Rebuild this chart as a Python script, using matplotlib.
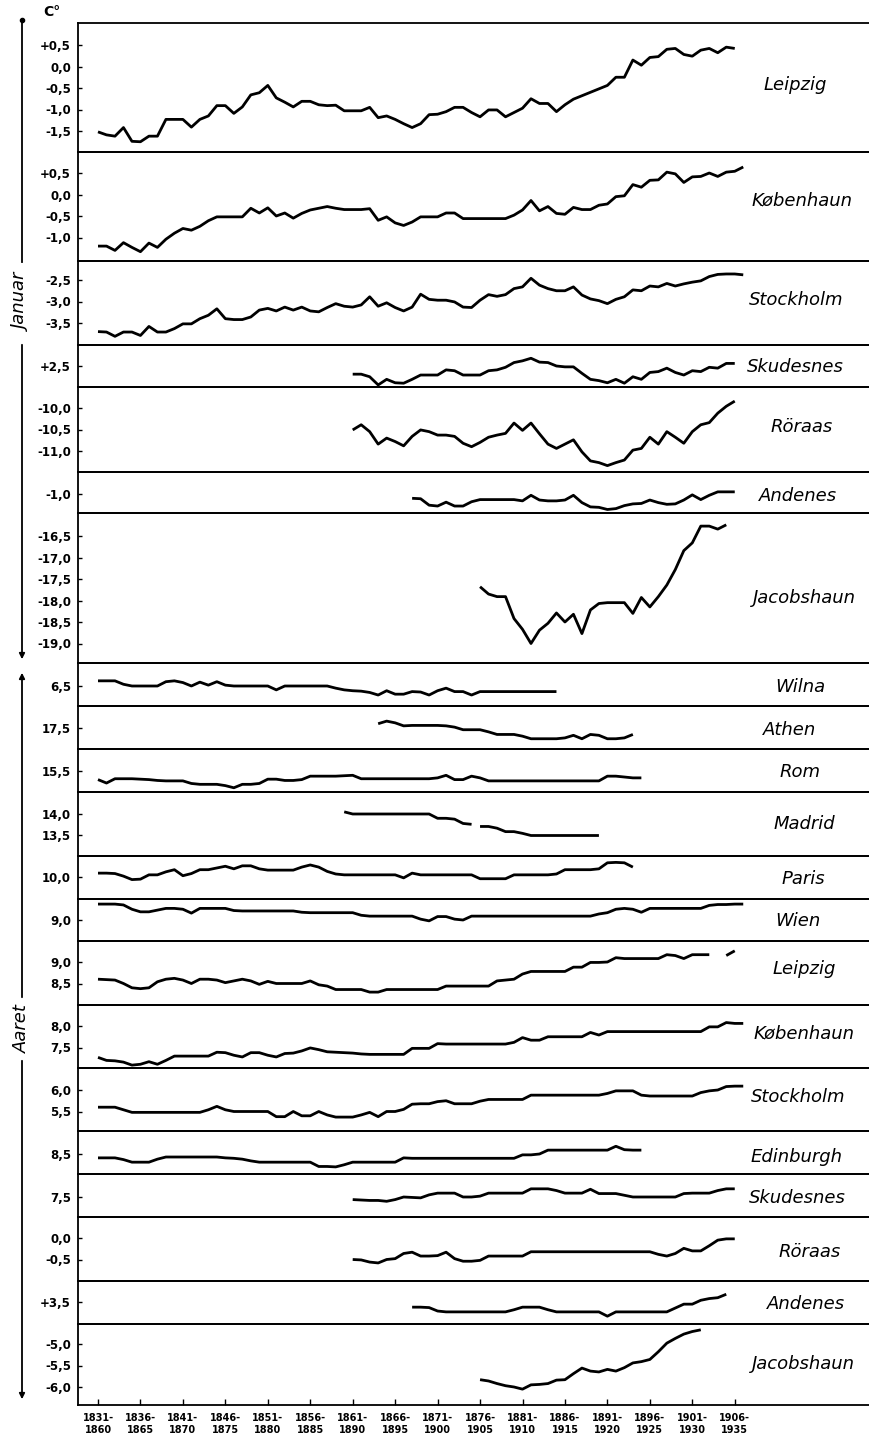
import numpy as np
import matplotlib
matplotlib.use("Agg")
import matplotlib.pyplot as plt
from matplotlib.lines import Line2D
from matplotlib.patches import FancyArrowPatch

# ---------------- data (30-year running means, first year of period) ----------------
leipzig_jan = [-1.52,-1.59,-1.62,-1.42,-1.74,-1.75,-1.62,-1.62,-1.23,-1.23,
               -1.23,-1.41,-1.23,-1.15,-0.91,-0.91,-1.09,-0.94,-0.66,-0.61,
               -0.44,-0.73,-0.83,-0.94,-0.81,-0.81,-0.89,-0.91,-0.90,-1.03,
               -1.03,-1.03,-0.95,-1.19,-1.15,-1.23,-1.33,-1.42,-1.33,-1.12,
               -1.11,-1.05,-0.95,-0.95,-1.07,-1.17,-1.01,-1.01,-1.17,-1.07,
               -0.97,-0.75,-0.86,-0.86,-1.05,-0.89,-0.76,-0.68,-0.60,-0.52,
               -0.44,-0.25,-0.25,0.15,0.03,0.21,0.23,0.40,0.42,0.28,
               0.24,0.38,0.42,0.32,0.45,0.42]
kobenhavn_jan = [-1.20,-1.20,-1.30,-1.12,-1.23,-1.33,-1.13,-1.23,-1.04,-0.90,
                 -0.79,-0.83,-0.74,-0.61,-0.52,-0.52,-0.52,-0.52,-0.32,-0.43,
                 -0.31,-0.50,-0.43,-0.55,-0.44,-0.36,-0.32,-0.28,-0.32,-0.35,
                 -0.35,-0.35,-0.33,-0.60,-0.52,-0.66,-0.72,-0.64,-0.52,-0.52,
                 -0.52,-0.43,-0.43,-0.56,-0.56,-0.56,-0.56,-0.56,-0.56,-0.48,
                 -0.36,-0.14,-0.38,-0.28,-0.44,-0.46,-0.30,-0.35,-0.35,-0.25,
                 -0.22,-0.05,-0.03,0.23,0.17,0.33,0.34,0.52,0.48,0.28,
                 0.41,0.42,0.50,0.42,0.52,0.54,0.64]
stockholm_jan = [-3.70,-3.71,-3.81,-3.71,-3.71,-3.79,-3.58,-3.71,-3.71,-3.63,
                 -3.52,-3.52,-3.40,-3.32,-3.17,-3.40,-3.42,-3.42,-3.36,-3.20,
                 -3.16,-3.22,-3.13,-3.20,-3.13,-3.22,-3.24,-3.14,-3.05,-3.11,
                 -3.13,-3.08,-2.89,-3.11,-3.03,-3.14,-3.22,-3.13,-2.83,-2.95,
                 -2.97,-2.97,-3.01,-3.13,-3.14,-2.97,-2.84,-2.88,-2.84,-2.70,
                 -2.66,-2.46,-2.62,-2.70,-2.75,-2.75,-2.66,-2.85,-2.94,-2.98,
                 -3.05,-2.95,-2.89,-2.73,-2.75,-2.64,-2.66,-2.58,-2.64,-2.59,
                 -2.55,-2.52,-2.42,-2.37,-2.36,-2.36,-2.38]
skudesnes_jan = [2.31,2.31,2.25,2.06,2.19,2.11,2.10,2.19,2.29,2.29,
                 2.29,2.41,2.39,2.29,2.29,2.29,2.39,2.41,2.47,2.58,
                 2.62,2.68,2.59,2.58,2.50,2.48,2.48,2.33,2.19,2.16,
                 2.11,2.19,2.10,2.25,2.19,2.35,2.37,2.45,2.35,2.29,
                 2.39,2.37,2.47,2.45,2.56,2.56]
roraas_jan = [-10.51,-10.39,-10.55,-10.84,-10.70,-10.78,-10.88,-10.66,-10.51,-10.55,
              -10.63,-10.63,-10.66,-10.82,-10.90,-10.80,-10.68,-10.63,-10.59,-10.35,
              -10.52,-10.35,-10.60,-10.84,-10.94,-10.84,-10.74,-11.02,-11.23,-11.27,
              -11.34,-11.27,-11.21,-10.98,-10.94,-10.68,-10.84,-10.55,-10.68,-10.82,
              -10.55,-10.39,-10.34,-10.12,-9.96,-9.84]
andenes_jan = [-1.10,-1.11,-1.26,-1.28,-1.19,-1.28,-1.28,-1.18,-1.13,-1.13,
               -1.13,-1.13,-1.13,-1.16,-1.03,-1.14,-1.16,-1.16,-1.14,-1.03,
               -1.20,-1.30,-1.31,-1.36,-1.34,-1.27,-1.23,-1.22,-1.14,-1.20,
               -1.24,-1.23,-1.14,-1.02,-1.13,-1.03,-0.95,-0.95,-0.95]
jacobshavn_jan = [-17.68,-17.85,-17.91,-17.91,-18.42,-18.67,-19.00,-18.69,-18.53,-18.29,
                  -18.50,-18.32,-18.77,-18.22,-18.07,-18.05,-18.05,-18.05,-18.30,-17.93,
                  -18.15,-17.91,-17.64,-17.28,-16.84,-16.66,-16.27,-16.27,-16.34,-16.24]

wilna_ann = [6.62,6.62,6.62,6.54,6.50,6.50,6.50,6.50,6.60,6.62,
             6.58,6.50,6.59,6.52,6.60,6.52,6.50,6.50,6.50,6.50,
             6.50,6.41,6.50,6.50,6.50,6.50,6.50,6.50,6.45,6.41,
             6.39,6.38,6.35,6.29,6.39,6.31,6.31,6.37,6.36,6.29,
             6.39,6.45,6.37,6.37,6.29,6.37,6.37,6.37,6.37,6.37,
             6.37,6.37,6.37,6.37,6.37]
athen_ann = [17.60,17.66,17.62,17.55,17.56,17.56,17.56,17.56,17.55,17.52,
             17.46,17.46,17.46,17.41,17.35,17.35,17.35,17.31,17.25,17.25,
             17.25,17.25,17.27,17.33,17.25,17.35,17.33,17.25,17.25,17.27,
             17.35]
rom_ann = [15.30,15.22,15.32,15.32,15.32,15.31,15.30,15.28,15.27,15.27,
           15.27,15.21,15.19,15.19,15.19,15.16,15.11,15.19,15.19,15.21,
           15.31,15.31,15.28,15.28,15.30,15.38,15.38,15.38,15.38,15.39,
           15.40,15.32,15.32,15.32,15.32,15.32,15.32,15.32,15.32,15.32,
           15.34,15.40,15.30,15.30,15.38,15.34,15.27,15.27,15.27,15.27,
           15.27,15.27,15.27,15.27,15.27,15.27,15.27,15.27,15.27,15.27,
           15.38,15.38,15.36,15.34,15.34]
madrid_ann_a = [14.05,14.00,14.00,14.00,14.00,14.00,14.00,14.00,14.00,14.00,
                14.00,13.90,13.90,13.88,13.78,13.76]
madrid_ann_b = [13.71,13.71,13.67,13.59,13.59,13.55,13.50,13.50,13.50,13.50,
                13.50,13.50,13.50,13.50,13.50]
paris_ann = [10.09,10.09,10.08,10.02,9.94,9.95,10.05,10.05,10.12,10.17,
             10.03,10.08,10.17,10.17,10.21,10.25,10.19,10.26,10.26,10.19,
             10.16,10.16,10.16,10.16,10.23,10.28,10.23,10.13,10.07,10.05,
             10.05,10.05,10.05,10.05,10.05,10.05,9.98,10.09,10.05,10.05,
             10.05,10.05,10.05,10.05,10.05,9.96,9.96,9.96,9.96,10.05,
             10.05,10.05,10.05,10.05,10.07,10.17,10.17,10.17,10.17,10.19,
             10.33,10.34,10.33,10.23]
wien_ann = [9.37,9.37,9.37,9.35,9.25,9.19,9.19,9.23,9.27,9.27,
            9.25,9.16,9.27,9.27,9.27,9.27,9.22,9.21,9.21,9.21,
            9.21,9.21,9.21,9.21,9.18,9.17,9.17,9.17,9.17,9.17,
            9.17,9.11,9.09,9.09,9.09,9.09,9.09,9.09,9.02,8.98,
            9.08,9.08,9.02,9.00,9.09,9.09,9.09,9.09,9.09,9.09,
            9.09,9.09,9.09,9.09,9.09,9.09,9.09,9.09,9.09,9.14,
            9.17,9.25,9.27,9.25,9.18,9.27,9.27,9.27,9.27,9.27,
            9.27,9.27,9.34,9.36,9.36,9.37,9.37]
leipzig_ann_a = [8.60,8.59,8.58,8.50,8.40,8.38,8.40,8.54,8.60,8.62,
                 8.58,8.50,8.60,8.60,8.58,8.52,8.56,8.60,8.56,8.48,
                 8.55,8.50,8.50,8.50,8.50,8.56,8.47,8.44,8.36,8.36,
                 8.36,8.36,8.30,8.30,8.36,8.36,8.36,8.36,8.36,8.36,
                 8.36,8.44,8.44,8.44,8.44,8.44,8.44,8.56,8.58,8.60,
                 8.72,8.78,8.78,8.78,8.78,8.78,8.88,8.88,8.99,8.99,
                 9.00,9.10,9.08,9.08,9.08,9.08,9.08,9.17,9.15,9.08,
                 9.17,9.17,9.17]
leipzig_ann_b = [9.15, 9.26]
kobenhavn_ann = [7.27,7.20,7.19,7.16,7.09,7.11,7.17,7.11,7.20,7.30,
                 7.30,7.30,7.30,7.30,7.39,7.38,7.32,7.28,7.38,7.38,
                 7.32,7.28,7.36,7.37,7.42,7.49,7.45,7.40,7.39,7.38,
                 7.37,7.35,7.34,7.34,7.34,7.34,7.34,7.48,7.48,7.48,
                 7.59,7.58,7.58,7.58,7.58,7.58,7.58,7.58,7.58,7.62,
                 7.73,7.67,7.67,7.75,7.75,7.75,7.75,7.75,7.85,7.79,
                 7.87,7.87,7.87,7.87,7.87,7.87,7.87,7.87,7.87,7.87,
                 7.87,7.87,7.98,7.98,8.08,8.06,8.06]
stockholm_ann = [5.60,5.60,5.60,5.54,5.48,5.48,5.48,5.48,5.48,5.48,
                 5.48,5.48,5.48,5.54,5.62,5.54,5.50,5.50,5.50,5.50,
                 5.50,5.38,5.38,5.50,5.40,5.40,5.50,5.42,5.37,5.37,
                 5.37,5.42,5.48,5.38,5.50,5.50,5.55,5.67,5.68,5.68,
                 5.73,5.75,5.68,5.68,5.68,5.74,5.78,5.78,5.78,5.78,
                 5.78,5.88,5.88,5.88,5.88,5.88,5.88,5.88,5.88,5.88,
                 5.92,5.98,5.98,5.98,5.88,5.86,5.86,5.86,5.86,5.86,
                 5.86,5.94,5.98,6.00,6.08,6.09,6.09]
edinburgh_ann = [8.41,8.41,8.41,8.37,8.31,8.31,8.31,8.38,8.43,8.43,
                 8.43,8.43,8.43,8.43,8.43,8.41,8.40,8.38,8.34,8.31,
                 8.31,8.31,8.31,8.31,8.31,8.31,8.21,8.21,8.20,8.25,
                 8.31,8.31,8.31,8.31,8.31,8.31,8.41,8.40,8.40,8.40,
                 8.40,8.40,8.40,8.40,8.40,8.40,8.40,8.40,8.40,8.40,
                 8.48,8.48,8.50,8.59,8.59,8.59,8.59,8.59,8.59,8.59,
                 8.59,8.68,8.60,8.59,8.59]
skudesnes_ann = [7.44,7.43,7.42,7.42,7.40,7.44,7.50,7.49,7.48,7.55,
                 7.59,7.59,7.59,7.50,7.50,7.52,7.59,7.59,7.59,7.59,
                 7.59,7.69,7.69,7.69,7.65,7.59,7.59,7.59,7.68,7.58,
                 7.58,7.58,7.54,7.50,7.50,7.50,7.50,7.50,7.50,7.58,
                 7.59,7.59,7.59,7.65,7.69,7.69]
roraas_ann = [-0.50,-0.51,-0.56,-0.58,-0.50,-0.48,-0.36,-0.33,-0.42,-0.42,
              -0.41,-0.33,-0.48,-0.54,-0.54,-0.52,-0.42,-0.42,-0.42,-0.42,
              -0.42,-0.32,-0.32,-0.32,-0.32,-0.32,-0.32,-0.32,-0.32,-0.32,
              -0.32,-0.32,-0.32,-0.32,-0.32,-0.32,-0.38,-0.42,-0.36,-0.24,
              -0.30,-0.30,-0.18,-0.05,-0.02,-0.02]
andenes_ann = [3.38,3.38,3.37,3.29,3.27,3.27,3.27,3.27,3.27,3.27,
               3.27,3.27,3.32,3.38,3.38,3.38,3.32,3.27,3.27,3.27,
               3.27,3.27,3.27,3.17,3.27,3.27,3.27,3.27,3.27,3.27,
               3.27,3.36,3.45,3.45,3.54,3.58,3.60,3.68]
jacobshavn_ann = [-5.83,-5.86,-5.92,-5.97,-6.00,-6.05,-5.95,-5.94,-5.92,-5.84,
                  -5.83,-5.69,-5.56,-5.63,-5.65,-5.59,-5.63,-5.55,-5.44,-5.41,
                  -5.36,-5.18,-4.98,-4.87,-4.77,-4.71,-4.67]

period_starts = list(range(1831, 1907, 5))
period_labels = [f"{y}-\n{y + 29}" for y in period_starts]

station_names = ["Leipzig", "Københaun", "Stockholm", "Skudesnes", "Röraas", "Andenes", "Jacobshaun",
                 "Wilna", "Athen", "Rom", "Madrid", "Paris", "Wien",
                 "Leipzig", "Københaun", "Stockholm", "Edinburgh", "Skudesnes", "Röraas", "Andenes", "Jacobshaun"]

# series per panel: list of (first year, values)
panel_series = [
    [(1831, leipzig_jan)], [(1831, kobenhavn_jan)], [(1831, stockholm_jan)],
    [(1861, skudesnes_jan)], [(1861, roraas_jan)], [(1868, andenes_jan)], [(1876, jacobshavn_jan)],
    [(1831, wilna_ann)], [(1864, athen_ann)], [(1831, rom_ann)],
    [(1860, madrid_ann_a), (1876, madrid_ann_b)], [(1831, paris_ann)], [(1831, wien_ann)],
    [(1831, leipzig_ann_a), (1905, leipzig_ann_b)], [(1831, kobenhavn_ann)], [(1831, stockholm_ann)],
    [(1831, edinburgh_ann)], [(1861, skudesnes_ann)], [(1861, roraas_ann)], [(1868, andenes_ann)],
    [(1876, jacobshavn_ann)],
]

panel_ticks = [
    [0.5, 0.0, -0.5, -1.0, -1.5], [0.5, 0.0, -0.5, -1.0], [-2.5, -3.0, -3.5], [2.5],
    [-10.0, -10.5, -11.0], [-1.0], [-16.5, -17.0, -17.5, -18.0, -18.5, -19.0],
    [6.5], [17.5], [15.5], [14.0, 13.5], [10.0], [9.0],
    [9.0, 8.5], [8.0, 7.5], [6.0, 5.5], [8.5], [7.5], [0.0, -0.5], [3.5], [-5.0, -5.5, -6.0],
]
panel_ticklabels = [
    ["+0,5", "0,0", "-0,5", "-1,0", "-1,5"], ["+0,5", "0,0", "-0,5", "-1,0"], ["-2,5", "-3,0", "-3,5"], ["+2,5"],
    ["-10,0", "-10,5", "-11,0"], ["-1,0"], ["-16,5", "-17,0", "-17,5", "-18,0", "-18,5", "-19,0"],
    ["6,5"], ["17,5"], ["15,5"], ["14,0", "13,5"], ["10,0"], ["9,0"],
    ["9,0", "8,5"], ["8,0", "7,5"], ["6,0", "5,5"], ["8,5"], ["7,5"], ["0,0", "-0,5"], ["+3,5"], ["-5,0", "-5,5", "-6,0"],
]

# ---------------- layout (pixels) ----------------
W, H = 869, 1446
AX_LEFT = 78
X0_PX, PX_PER_YEAR = 98, 8.49
SCALE = 43.0  # px per degree C, identical for all panels

panel_top = [23, 152, 261, 345, 387, 472, 513, 663, 706, 749, 792, 856, 899, 941, 1005, 1068, 1131, 1174, 1217, 1281, 1324]
panel_bot = panel_top[1:] + [1405]
ref_px = [45, 173, 280, 366, 408, 494, 536, 686, 728, 771, 814, 877, 920, 962, 1026, 1090, 1154, 1197, 1238, 1302, 1344]
label_pos = [(795, 85), (802, 200), (796, 300), (795, 367), (802, 427), (798, 496), (804, 598),
             (800, 687), (790, 730), (800, 772), (804, 824), (803, 879), (798, 921),
             (804, 969), (804, 1033), (798, 1097), (797, 1157), (797, 1198), (810, 1252), (806, 1304), (803, 1364)]

plt.rcParams['font.family'] = ['DejaVu Sans']
fig = plt.figure(figsize=(W / 100, H / 100), dpi=100)
fig.patch.set_facecolor("white")

xlim = (1831 - (X0_PX - AX_LEFT) / PX_PER_YEAR, 1831 + (W - X0_PX) / PX_PER_YEAR)

axes = []
for i in range(len(station_names)):
    top, bot = panel_top[i], panel_bot[i]
    ref_val = panel_ticks[i][0]
    ymin = ref_val - (bot - ref_px[i]) / SCALE
    ymax = ref_val + (ref_px[i] - top) / SCALE
    ax = fig.add_axes([AX_LEFT / W, 1 - bot / H, (W - AX_LEFT) / W, (bot - top) / H])
    ax.patch.set_visible(False)
    ax.set_xlim(*xlim)
    ax.set_ylim(ymin, ymax)
    for start, vals in panel_series[i]:
        yrs = np.arange(start, start + len(vals))
        ax.plot(yrs, vals, color="black", lw=2.0, solid_joinstyle="round", solid_capstyle="butt")
    for s in ("top", "bottom", "left"):
        ax.spines[s].set_linewidth(1.3)
    ax.spines["right"].set_visible(False)
    ax.set_yticks(panel_ticks[i])
    ax.set_yticklabels(panel_ticklabels[i], fontsize=8.5, fontweight="bold")
    ax.tick_params(axis="y", direction="in", length=3, width=1, pad=5)
    ax.set_xticks([])
    fig.text(label_pos[i][0] / W, 1 - label_pos[i][1] / H, station_names[i],
             ha="center", va="center", fontsize=13, style="italic")
    axes.append(ax)

axb = axes[-1]
axb.set_xticks(period_starts)
axb.set_xticklabels(period_labels, fontsize=7, fontweight="bold", linespacing=1.2)
axb.tick_params(axis="x", direction="in", length=4, width=1, pad=6)

# unit label
fig.text(52 / W, 1 - 12 / H, "C°", ha="center", va="center", fontsize=10, fontweight="bold")

# left-hand brackets: Januar / Aaret
def fx(px):
    return px / W

def fy(py):
    return 1 - py / H

LX = 22
def vseg(y0, y1, arrow_end=False):
    if arrow_end:
        fig.add_artist(FancyArrowPatch((fx(LX), fy(y0)), (fx(LX), fy(y1)), transform=fig.transFigure,
                                       arrowstyle="-|>", mutation_scale=8, lw=1.3, color="black"))
    else:
        fig.add_artist(Line2D([fx(LX), fx(LX)], [fy(y0), fy(y1)], transform=fig.transFigure,
                              lw=1.3, color="black"))

vseg(20, 262)
vseg(342, 662, arrow_end=True)
fig.add_artist(Line2D([fx(LX)], [fy(20)], marker="o", ms=3, color="black", transform=fig.transFigure))
fig.text(fx(LX), fy(302), "Januar", rotation=90, ha="center", va="center", fontsize=13, style="italic")

vseg(1000, 670, arrow_end=True)
vseg(1058, 1402, arrow_end=True)
fig.text(fx(LX), fy(1029), "Aaret", rotation=90, ha="center", va="center", fontsize=13, style="italic")

fig.savefig("out.png", dpi=100, facecolor="white")
